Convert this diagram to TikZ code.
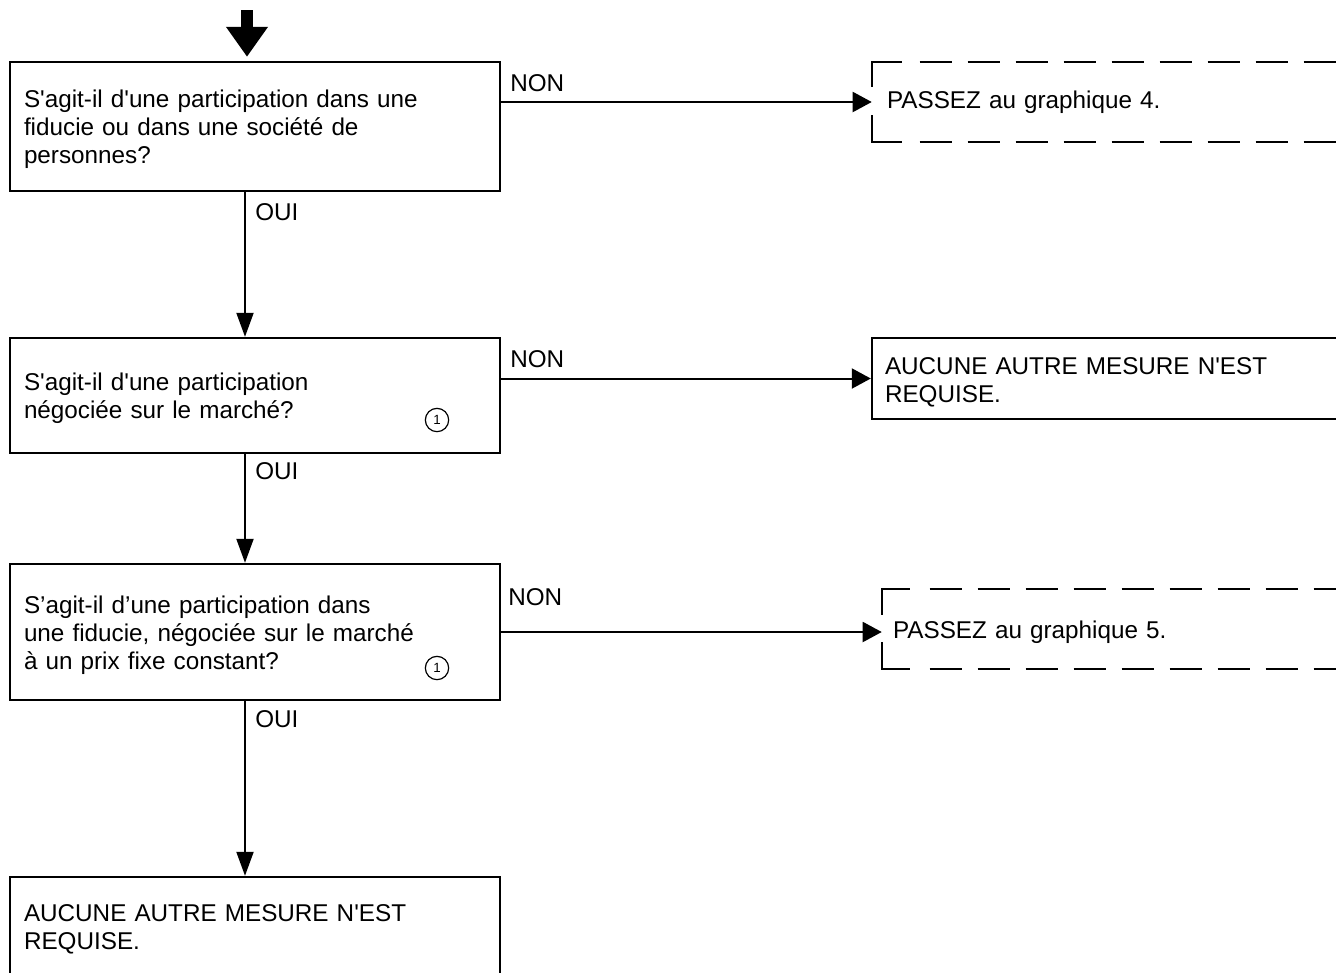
\documentclass[tikz,border=0pt]{standalone}
\usepackage{fontspec}
\newfontfamily\arial{Liberation Sans}
\usetikzlibrary{arrows.meta,calc}
\begin{document}
\begin{tikzpicture}[x=0.75pt,y=-0.75pt,
  every node/.style={font=\arial\fontsize{18.2pt}{21pt}\selectfont},
  lowtext/.style={execute at begin node={\rule{0pt}{18pt}}},
  qbox/.style={draw, line width=1.8pt, rectangle, minimum width=367.5pt, inner xsep=10.5pt, text width=346.5pt, align=left, lowtext},
  rbox/.style={rectangle, align=left},
  lbl/.style={anchor=west, inner sep=0pt},
  numc/.style={circle, draw, line width=0.9pt, minimum size=17.5pt, inner sep=0pt, font=\arial\fontsize{10pt}{11pt}\selectfont},
  vconn/.style={line width=1.5pt, -{Triangle[length=18pt,width=12.75pt]}},
  hconn/.style={line width=1.5pt, -{Triangle[length=14.25pt,width=15pt]}},
  dline/.style={line width=1.8pt},
  dashline/.style={line width=1.8pt, dash pattern=on 24pt off 12pt}
]
\useasboundingbox (0,0) rectangle (1336,972);
\clip (0,0) rectangle (1336,972);

% question boxes
\node[qbox, minimum height=96.75pt] (q1) at (255,126.5) {S'agit-il d'une participation dans une\\fiducie ou dans une société de\\personnes?};
\node[qbox, minimum height=86.25pt] (q2) at (255,395.5) {S'agit-il d'une participation\\négociée sur le marché?};
\node[qbox, minimum height=102pt] (q3) at (255,632) {S’agit-il d’une participation dans\\une fiducie, négociée sur le marché\\à un prix fixe constant?};
\node[qbox, minimum height=73.5pt] (q4) at (255,926) {AUCUNE AUTRE MESURE N'EST\\REQUISE.};

\node[numc] (n1) at (437,420) {1};
\node[numc] (n2) at (437,668) {1};

% right boxes
\node[rbox, minimum width=351pt, minimum height=60pt, inner xsep=11.25pt, text width=328.5pt] (r1) at (1106,102) {PASSEZ au graphique 4.};
\node[rbox, lowtext, draw, line width=1.8pt, minimum width=354.75pt, minimum height=60.75pt, inner xsep=9.75pt, text width=335.25pt] (r2) at (1108.5,378.5) {AUCUNE AUTRE MESURE N'EST\\REQUISE.};
\node[rbox, lowtext, minimum width=343.5pt, minimum height=60pt, inner xsep=8.25pt, text width=327pt] (r3) at (1111,629) {PASSEZ au graphique 5.};

% dashed outline r1
\draw[dline] ($(r1.north west)+(0,25)$) -- (r1.north west) -- ($(r1.north west)+(30,0)$);
\draw[dline] ($(r1.south west)+(0,-27)$) -- (r1.south west) -- ($(r1.south west)+(30,0)$);
\draw[dashline] ($(r1.north west)+(48,0)$) -- (r1.north east);
\draw[dashline] ($(r1.south west)+(48,0)$) -- (r1.south east);

% dashed outline r3
\draw[dline] ($(r3.north west)+(0,26)$) -- (r3.north west) -- ($(r3.north west)+(28,0)$);
\draw[dline] ($(r3.south west)+(0,-27)$) -- (r3.south west) -- ($(r3.south west)+(28,0)$);
\draw[dashline] ($(r3.north west)+(48,0)$) -- (r3.north east);
\draw[dashline] ($(r3.south west)+(48,0)$) -- (r3.south east);

% top arrow
\coordinate (tstart) at (247,10);
\draw[line width=9pt, -{Triangle[length=22.5pt,width=30pt]}, shorten >=3pt] (tstart) -- (tstart |- q1.north);

% vertical connectors
\coordinate (spine) at (245,0);
\draw[vconn] (spine |- q1.south) -- (spine |- q2.north);
\draw[vconn] (spine |- q2.south) -- (spine |- q3.north);
\draw[vconn] (spine |- q3.south) -- (spine |- q4.north);

% horizontal connectors
\draw[hconn] (q1.east |- r1.west) -- (r1.west);
\draw[hconn] (q2.east |- r2.west) -- (r2.west);
\draw[hconn] (q3.east) -- (q3.east -| r3.west);

% labels
\node[lbl] (non1) at (510,83) {NON};
\node[lbl] (non2) at (510,359) {NON};
\node[lbl] (non3) at (508,597) {NON};
\node[lbl] (oui1) at (255,212) {OUI};
\node[lbl] (oui2) at (255,471) {OUI};
\node[lbl] (oui3) at (255,719) {OUI};
\end{tikzpicture}
\end{document}
